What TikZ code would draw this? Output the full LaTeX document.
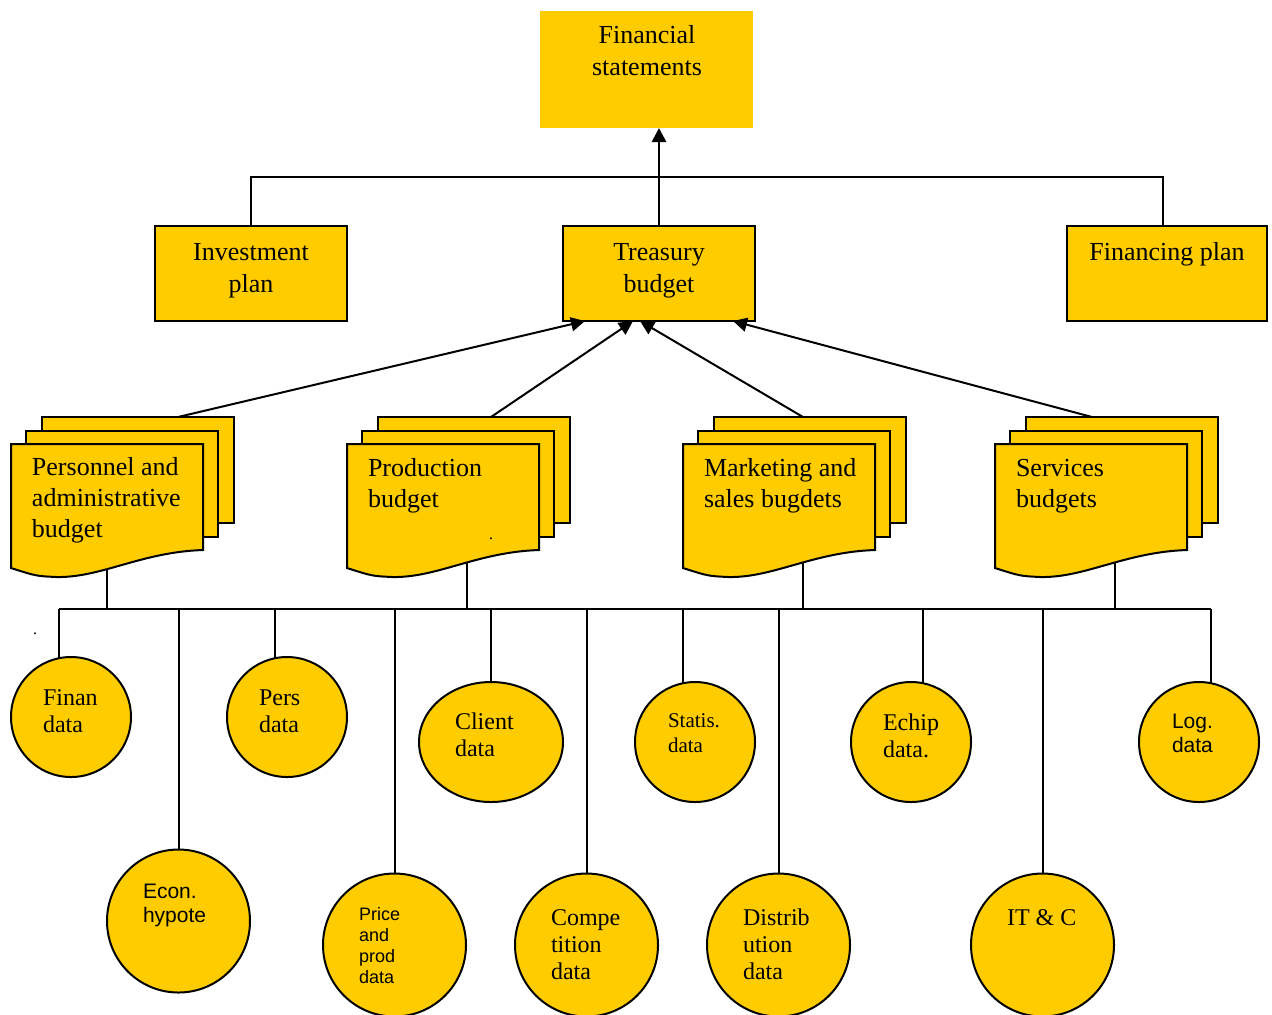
\documentclass[tikz,border=0pt]{standalone}
\usepackage{fontspec}
\setmainfont{Liberation Serif}
\setsansfont{Liberation Sans}
\usetikzlibrary{arrows.meta,shapes.geometric,backgrounds}
\definecolor{budgetyellow}{RGB}{255,204,0}

\begin{document}
\begin{tikzpicture}[x=0.5pt, y=-0.5pt, line width=1pt,
 every node/.style = {inner sep=0pt, outer sep=0pt},
 box/.style = {shape=rectangle, draw, line width=1pt, fill=budgetyellow, minimum width=96pt, minimum height=47.5pt},
 sheet/.style = {draw, line width=1pt, fill=budgetyellow},
 datum/.style = {shape=ellipse, draw, line width=1pt, fill=budgetyellow},
 wire/.style = {draw, line width=1pt},
 big/.style = {font=\fontsize{13}{16}\selectfont, align=center, anchor=base},
 doc/.style = {font=\fontsize{13}{15.5}\selectfont, align=left, anchor=base west},
 circ/.style = {font=\fontsize{12}{13.5}\selectfont, align=left, anchor=base west},
 arr/.style = {-{Triangle[length=7pt,width=7pt]}}]
\useasboundingbox (0,0) rectangle (1272,1014);

% statements, plans and treasury
\node (fs) [box, draw=none, minimum width=106.5pt, minimum height=58.5pt] at (646.5,69.5) {};
\node (invest) [box] at (251,273.5) {};
\node (treas) [box] at (659,273.5) {};
\node (finplan) [box, minimum width=100pt] at (1167,273.5) {};
% base = last line
\node (fs-t) [big] at (647,75) {Financial\\statements};
\node (invest-t) [big] at (251,292) {Investment\\plan};
\node (treas-t) [big] at (659,292) {Treasury\\budget};
\node (finplan-t) [big] at (1167,260) {Financing plan};

\coordinate (fin-top) at (1163,177);
\draw [wire, line width=0.75pt] (invest.north) |- (fin-top) -- (fin-top |- finplan.north);
\draw [wire, line width=1.4pt, arr] (treas.north) -- (treas.north |- fs.south);

% bus to the data
\coordinate (bus-l) at (59,609);
\coordinate (bus-r) at (1211,609);
\draw [wire] (bus-l) -- (bus-r);

% budgets
\foreach \n/\x/\c/\a/\e in {pers/11/96/167/11, prod/347/120/144/35, mark/683/120/120/38.5, serv/995/120/97/85}{
 \coordinate (\n-bot) at (\x+\c,555);
 \coordinate (\n-bus) at (\x+\c,609);
 \draw [wire] (\n-bot) -- (\n-bus);
 \path [sheet] (\x+31,417) rectangle (\x+223,523);
 \path [sheet] (\x+15,431) rectangle (\x+207,537);
 \path [sheet] (\x,444) -- (\x+192,444) -- (\x+192,550)
   .. controls (\x+130,552) and (\x+90,578) .. (\x+45,577)
   .. controls (\x+25,576) .. (\x,568) -- cycle;
 \coordinate (\n-top) at (\x+\a,417);
 \draw [wire, arr] (\n-top) -- ([xshift=\e pt]treas.south west);
}
\node (pers-t) [doc] at (32,537) {Personnel and\\administrative\\budget};
\node (prod-t) [doc] at (368,507) {Production\\budget};
\node (mark-t) [doc] at (704,507) {Marketing and\\sales bugdets};
\node (serv-t) [doc] at (1016,507) {Services\\budgets};

% data circles
\foreach \n/\cx/\cy/\w/\h/\s in {finan/71/717/60/60/59, persd/287/717/60/60/275,
  client/491/742/72/60/491, statis/695/742/60/60/683, echip/911/742/60/60/923,
  logd/1199/742/60/60/1211, econ/178.5/921/71.5/71.5/179, price/394.5/945/71.5/71.5/395,
  compe/586.5/945/71.5/71.5/587, distrib/778.5/945/71.5/71.5/779, itc/1042.5/945/71.5/71.5/1043}{
 \node (\n) [datum, minimum width=\w pt, minimum height=\h pt] at (\cx,\cy) {};
 \coordinate (\n-b) at (\s,609);
 \begin{pgfonlayer}{background}
  \draw [wire] (\n-b) -- (\n-b |- \n.center);
 \end{pgfonlayer}
}
\node (finan-t) [circ] at (43,732) {Finan\\data};
\node (persd-t) [circ] at (259,732) {Pers\\data};
\node (client-t) [circ] at (455,756) {Client\\data};
\node (statis-t) [circ, font=\fontsize{10.5}{12.5}\selectfont] at (668,752) {Statis.\\data};
\node (echip-t) [circ] at (883,757) {Echip\\data.};
\node (logd-t) [circ, font=\sffamily\fontsize{10.5}{12}\selectfont] at (1172,752) {Log.\\data};
\node (econ-t) [circ, font=\sffamily\fontsize{10.5}{12}\selectfont] at (143,922) {Econ.\\hypote};
\node (price-t) [circ, font=\sffamily\fontsize{9}{10.5}\selectfont] at (359,983) {Price\\and\\prod\\data};
\node (compe-t) [circ] at (551,979) {Compe\\tition\\data};
\node (distrib-t) [circ] at (743,979) {Distrib\\ution\\data};
\node (itc-t) [circ] at (1007,925) {IT \& C};

% stray dots
\node (dot-a) [font=\fontsize{8}{8}\selectfont, anchor=base] at (35,634) {.};
\node (dot-b) [font=\fontsize{8}{8}\selectfont, anchor=base] at (491,539) {.};
\end{tikzpicture}
\end{document}
